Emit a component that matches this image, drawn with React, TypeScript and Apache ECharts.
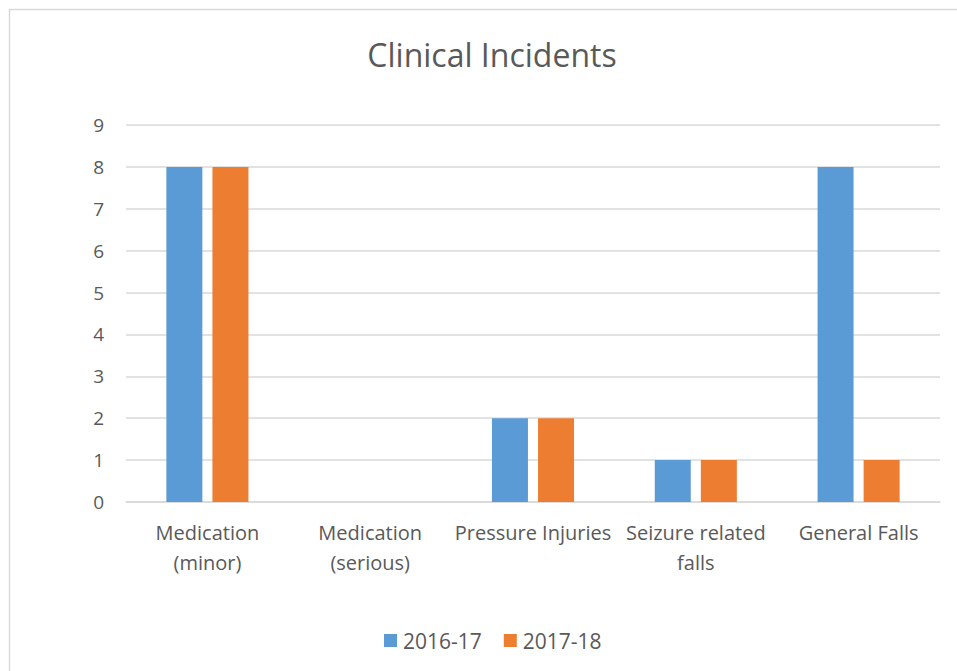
import React, { useEffect, useRef } from "react";
import * as echarts from "echarts";

const categories = [
  "Medication\n(minor)",
  "Medication\n(serious)",
  "Pressure Injuries",
  "Seizure related\nfalls",
  "General Falls",
];
const series2016 = [8, 0, 2, 1, 8];
const series2017 = [8, 0, 2, 1, 1];
const yTicks = { min: 0, max: 9, interval: 1 };

const FONT = "'Open Sans', 'Liberation Sans', sans-serif";
const TEXT = "#595959";

export default function App() {
  const ref = useRef<HTMLDivElement>(null);
  useEffect(() => {
    if (!ref.current) return;
    const chart = echarts.init(ref.current, undefined, { renderer: "svg" });
    chart.setOption({
      animation: false,
      backgroundColor: "#ffffff",
      title: {
        text: "Clinical Incidents",
        left: 487,
        top: 33,
        textAlign: "center",
        textStyle: { fontFamily: FONT, fontSize: 32, fontWeight: "normal", color: TEXT },
      },
      graphic: [
        {
          type: "rect",
          shape: { x: 9.5, y: 9.5, width: 1000, height: 1000 },
          style: { fill: "none", stroke: "#D9D9D9", lineWidth: 1.5 },
          silent: true,
          z: -10,
        },
      ],
      legend: {
        bottom: 15,
        left: 379,
        itemWidth: 13,
        itemHeight: 13,
        itemGap: 22,
        icon: "rect",
        textStyle: { fontFamily: FONT, fontSize: 21, color: TEXT, padding: [0, 0, 0, 1] },
        data: ["2016-17", "2017-18"],
      },
      grid: { left: 126, right: 17, top: 125, bottom: 169, containLabel: false },
      xAxis: {
        type: "category",
        data: categories,
        axisLine: { show: true, lineStyle: { color: "#D9D9D9", width: 1.5 } },
        axisTick: { show: false },
        axisLabel: {
          interval: 0,
          margin: 15,
          fontFamily: FONT,
          fontSize: 20,
          lineHeight: 30,
          color: TEXT,
        },
      },
      yAxis: {
        type: "value",
        min: yTicks.min,
        max: yTicks.max,
        interval: yTicks.interval,
        axisLine: { show: false },
        axisTick: { show: false },
        splitLine: { lineStyle: { color: "#D9D9D9", width: 1.5 } },
        axisLabel: { margin: 22, fontFamily: FONT, fontSize: 19, color: TEXT },
      },
      series: [
        {
          name: "2016-17",
          type: "bar",
          data: series2016,
          barWidth: 36,
          barGap: "28%",
          itemStyle: { color: "#5B9BD5" },
        },
        {
          name: "2017-18",
          type: "bar",
          data: series2017,
          barWidth: 36,
          barGap: "28%",
          itemStyle: { color: "#ED7D31" },
        },
      ],
    });
    return () => chart.dispose();
  }, []);
  return (
    <div
      ref={ref}
      style={{ position: "fixed", left: 0, top: 0, width: 957, height: 671 }}
    />
  );
}
